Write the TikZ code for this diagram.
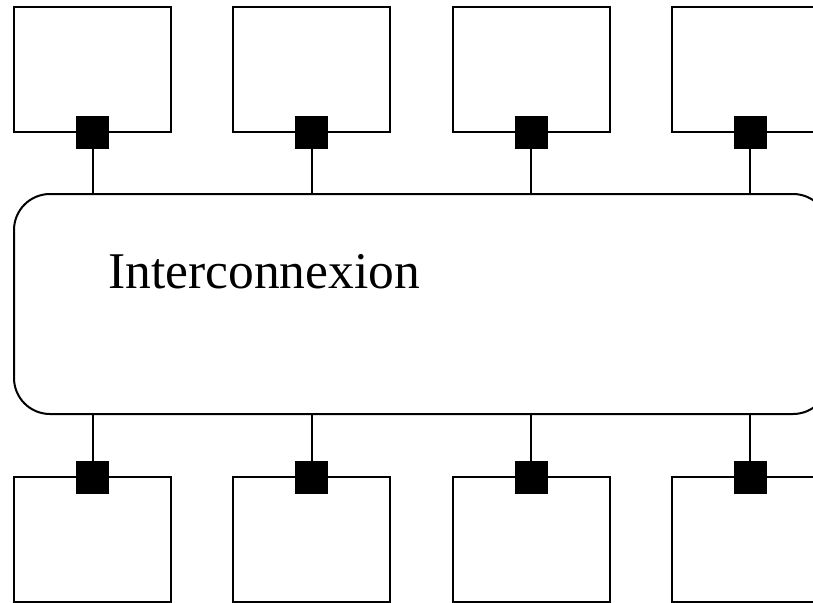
\documentclass[tikz,border=0pt]{standalone}
\usepackage{fontspec}
\setmainfont{Liberation Serif}
\begin{document}
\begin{tikzpicture}[x=1pt,y=-1pt,
  unit/.style={draw=black,line width=2pt,minimum width=157pt,minimum height=125pt,inner sep=0pt,fill=white},
  port/.style={fill=black,draw=none,minimum size=33pt,inner sep=0pt},
  busbox/.style={draw=black,line width=2pt,rounded corners=36pt,minimum width=815pt,minimum height=220pt,inner sep=0pt},
  link/.style={line width=2pt}]
  \useasboundingbox (0,0) rectangle (813,602);
  \clip (0,0) rectangle (813,602);
  % interconnection bus
  \node[busbox] (bus) at (421.5,304) {};
  \node[anchor=base west,inner sep=0pt,font=\fontsize{51.5}{60}\selectfont] (label) at (108,288) {Interconnexion};
  % processing units above and below with their ports
  \foreach \i/\cx in {1/92.5,2/311.8,3/531.1,4/750.4}{
    \node[unit] (top\i) at (\cx,69.5) {};
    \node[port] (tp\i) at (\cx,132.5) {};
    \draw[link] (tp\i.south) -- (tp\i.south |- bus.north);
    \node[unit] (bot\i) at (\cx,539) {};
    \node[port] (bp\i) at (\cx,477.5) {};
    \draw[link] (bp\i.north) -- (bp\i.north |- bus.south);
  }
\end{tikzpicture}
\end{document}
